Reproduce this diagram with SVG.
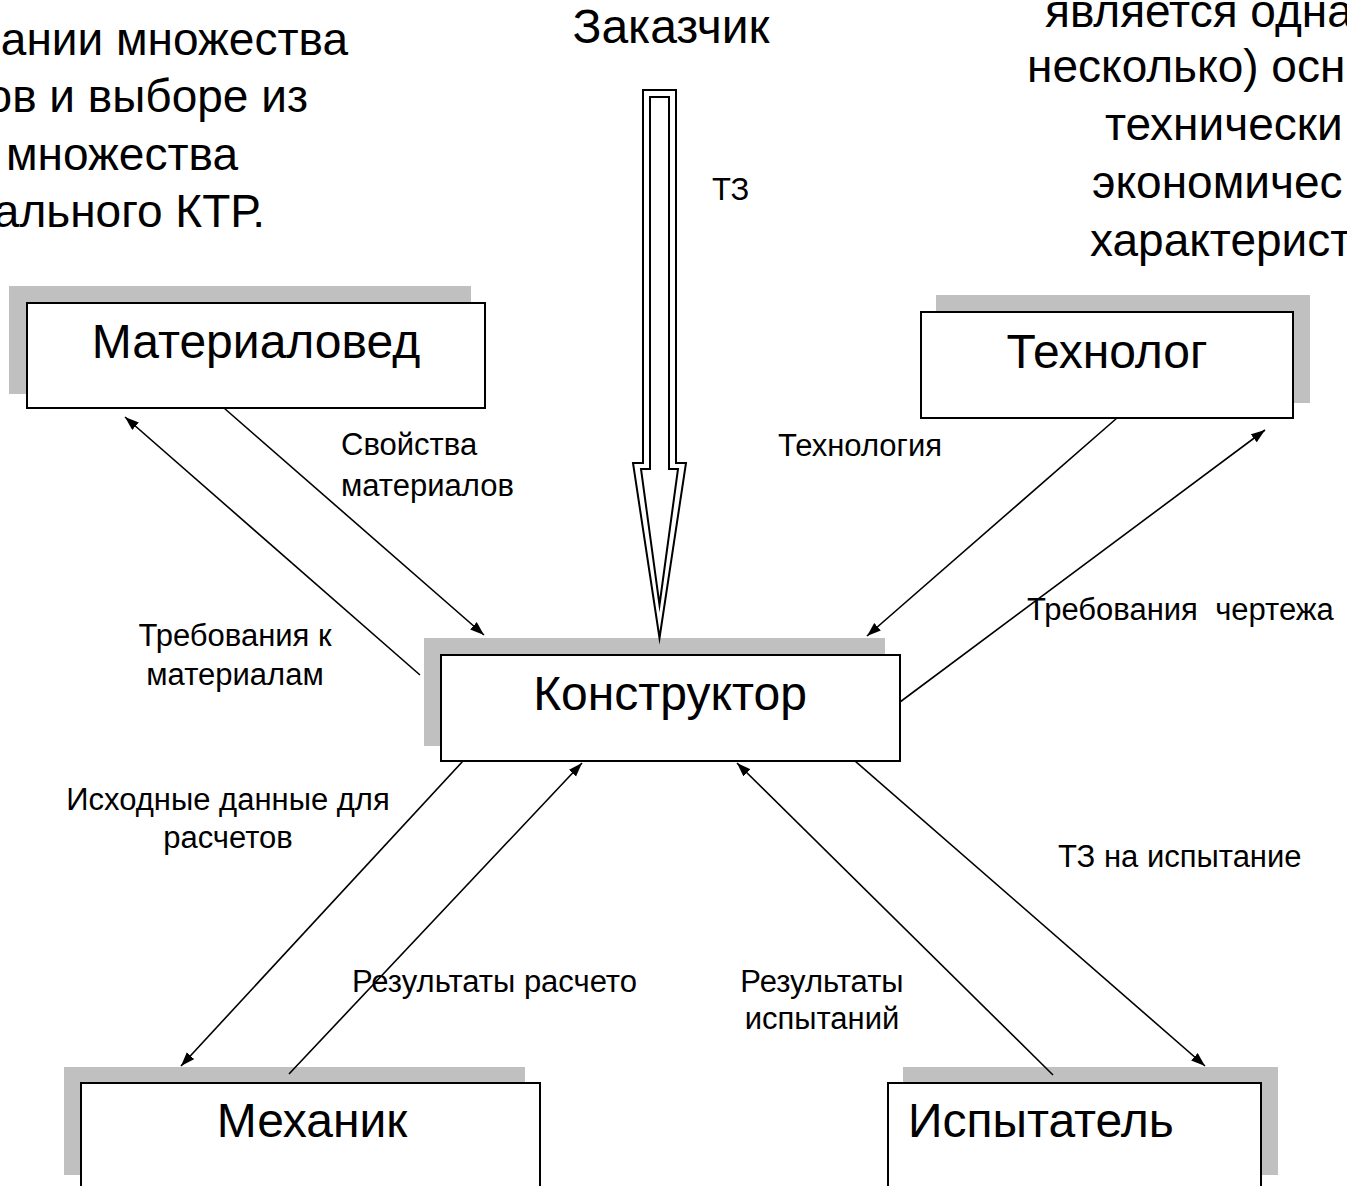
<svg xmlns="http://www.w3.org/2000/svg" width="1347" height="1186" viewBox="0 0 1347 1186">
<style>
text{font-family:"Liberation Sans",Arial,sans-serif;fill:#000}
.big{font-size:48px}
.para{font-size:46px}
.lbl{font-size:31px}
.shadow{fill:#c0c0c0}
.box{fill:#fff;stroke:#000;stroke-width:2}
.conn{stroke:#000;stroke-width:1.6;fill:none}
.blk{fill:#fff;stroke:#000;stroke-width:2;stroke-linejoin:miter;stroke-miterlimit:20}
</style>
<defs>
<marker id="ah" markerUnits="userSpaceOnUse" markerWidth="16" markerHeight="12" refX="14" refY="5" orient="auto">
<path d="M0,0 L14,5 L0,10 z" fill="#000"/>
</marker>
<clipPath id="clipRes"><rect x="0" y="950" width="638" height="60"/></clipPath>
</defs>
<rect width="1347" height="1186" fill="#fff"/>

<g id="text-left" class="para" text-anchor="end">
<text x="348" y="55">ании множества</text>
<text x="308" y="112">ов и выборе из</text>
<text x="238" y="170">множества</text>
<text x="265" y="227">ального КТР.</text>
</g>
<g id="text-right" class="para">
<text x="1045" y="27">является одна</text>
<text x="1027" y="82">несколько) осн</text>
<text x="1105" y="140">технически</text>
<text x="1092" y="198">экономичес</text>
<text x="1090" y="256">характерист</text>
</g>

<g id="node-zakazchik"><text class="big" x="671" y="43" text-anchor="middle">Заказчик</text></g>

<g id="node-materialoved">
<rect class="shadow" x="9" y="286" width="462" height="108"/>
<rect class="box" x="27" y="303" width="458" height="105"/>
<text class="big" x="256" y="358" text-anchor="middle">Материаловед</text>
</g>
<g id="node-tehnolog">
<rect class="shadow" x="936" y="295" width="374" height="108"/>
<rect class="box" x="921" y="312" width="372" height="106"/>
<text class="big" x="1107" y="368" text-anchor="middle">Технолог</text>
</g>
<g id="node-konstruktor">
<rect class="shadow" x="424" y="638" width="461" height="108"/>
<rect class="box" x="441" y="655" width="459" height="106"/>
<text class="big" x="670" y="710" text-anchor="middle">Конструктор</text>
</g>
<g id="node-mehanik">
<rect class="shadow" x="64" y="1067" width="461" height="108"/>
<rect class="box" x="81" y="1083" width="459" height="112"/>
<text class="big" x="312" y="1137" text-anchor="middle">Механик</text>
</g>
<g id="node-ispytatel">
<rect class="shadow" x="903" y="1067" width="375" height="108"/>
<rect class="box" x="888" y="1083" width="373" height="112"/>
<text class="big" x="908" y="1137">Испытатель</text>
</g>

<g id="connectors">
<g id="tz-arrow">
<path class="blk" d="M643,90 L676,90 L676,463 L686,463 L659.5,638 L633,463 L643,463 Z"/>
<path class="blk" d="M650,97 L669,97 L669,469 L678,469 L659.5,605 L641,469 L650,469 Z"/>
</g>
<line class="conn" x1="224" y1="408" x2="484" y2="635" marker-end="url(#ah)"/>
<line class="conn" x1="420" y1="675" x2="125" y2="417" marker-end="url(#ah)"/>
<line class="conn" x1="1117" y1="418" x2="867" y2="636" marker-end="url(#ah)"/>
<line class="conn" x1="900" y1="702" x2="1265" y2="430" marker-end="url(#ah)"/>
<line class="conn" x1="463" y1="761" x2="181" y2="1066" marker-end="url(#ah)"/>
<line class="conn" x1="289" y1="1074" x2="582" y2="763" marker-end="url(#ah)"/>
<line class="conn" x1="1053" y1="1075" x2="737" y2="763" marker-end="url(#ah)"/>
<line class="conn" x1="855" y1="761" x2="1205" y2="1066" marker-end="url(#ah)"/>
</g>

<g id="labels" class="lbl">
<text x="712" y="200">ТЗ</text>
<text x="341" y="455">Свойства</text>
<text x="341" y="496">материалов</text>
<text x="778" y="456">Технология</text>
<text x="235" y="646" text-anchor="middle">Требования к</text>
<text x="235" y="685" text-anchor="middle">материалам</text>
<text x="1027" y="620" xml:space="preserve">Требования  чертежа</text>
<text x="228" y="810" text-anchor="middle">Исходные данные для</text>
<text x="228" y="848" text-anchor="middle">расчетов</text>
<text x="1058" y="867">ТЗ на испытание</text>
<text x="352" y="992" clip-path="url(#clipRes)">Результаты расчето</text>
<text x="822" y="992" text-anchor="middle">Результаты</text>
<text x="822" y="1029" text-anchor="middle">испытаний</text>
</g>
</svg>
